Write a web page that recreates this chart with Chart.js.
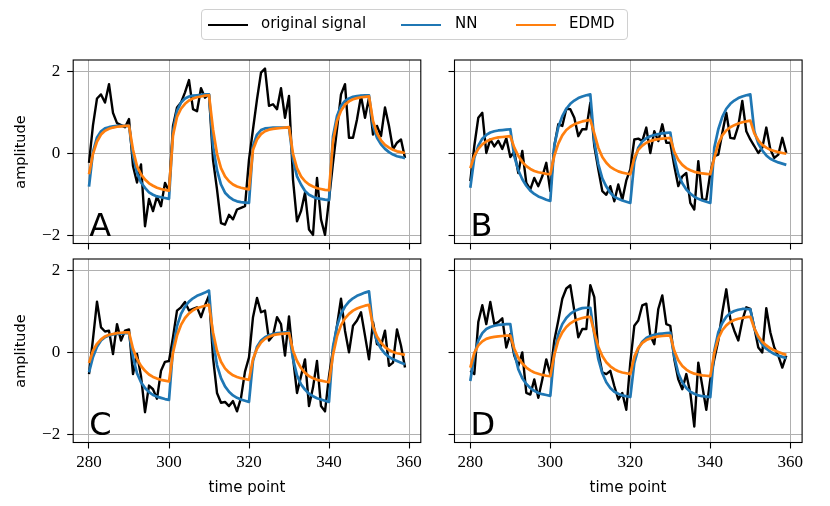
<!DOCTYPE html>
<html>
<head>
<meta charset="utf-8">
<script src="https://cdn.jsdelivr.net/npm/chart.js@4.4.1/dist/chart.umd.min.js"></script>
<style>
  body { margin: 0; background: #fff; }
  #page { position: relative; width: 830px; height: 506px; overflow: hidden; font-family: "DejaVu Sans", sans-serif; }
  canvas { position: absolute; left: 0; top: 0; }
  .lbl { position: absolute; white-space: nowrap; font-size: 15px; color: #000; transform: translate(-50%, -50%); }
  .ylbl { transform: translate(-50%, -50%) rotate(-90deg); font-size: 14.5px; }
  #legend { position: absolute; left: 201px; top: 9px; width: 425px; height: 29px; border: 1px solid #d0d0d0; border-radius: 4px; }
  #legend .sw { position: absolute; top: 14px; width: 40px; height: 0; border-top: 2.5px solid; }
  #legend .tx { position: absolute; top: 4px; font-size: 15px; }
</style>
</head>
<body>
<div id="page">
  <canvas id="panelA" width="830" height="506"></canvas>
  <canvas id="panelB" width="830" height="506"></canvas>
  <canvas id="panelC" width="830" height="506"></canvas>
  <canvas id="panelD" width="830" height="506"></canvas>

  <div id="legend">
    <div class="sw" style="left:6px; border-color:#000000"></div><span class="tx" style="left:59px">original signal</span>
    <div class="sw" style="left:199px; border-color:#1f77b4"></div><span class="tx" style="left:253px">NN</span>
    <div class="sw" style="left:314px; border-color:#ff7f0e"></div><span class="tx" style="left:367px">EDMD</span>
  </div>

  <div class="lbl ylbl" style="left:20px; top:152px">amplitude</div>
  <div class="lbl ylbl" style="left:20px; top:351px">amplitude</div>
  <div class="lbl" style="left:247px; top:487px">time point</div>
  <div class="lbl" style="left:628px; top:487px">time point</div>
</div>

<script>
// time axis, 280..359
const timePoints = [
  280, 281, 282, 283, 284, 285, 286, 287, 288, 289,
  290, 291, 292, 293, 294, 295, 296, 297, 298, 299,
  300, 301, 302, 303, 304, 305, 306, 307, 308, 309,
  310, 311, 312, 313, 314, 315, 316, 317, 318, 319,
  320, 321, 322, 323, 324, 325, 326, 327, 328, 329,
  330, 331, 332, 333, 334, 335, 336, 337, 338, 339,
  340, 341, 342, 343, 344, 345, 346, 347, 348, 349,
  350, 351, 352, 353, 354, 355, 356, 357, 358, 359
];
const xTicks = [280, 300, 320, 340, 360];
const yTicks = [-2, 0, 2];

// panel A
const signalA = [
  -0.22, 0.7, 1.35, 1.45, 1.25, 1.7, 1.0, 0.75, 0.7, 0.65,
  0.85, -0.3, -0.7, -0.26, -1.77, -1.1, -1.4, -1.04, -1.28, -0.71,
  -0.91, 0.68, 1.13, 1.25, 1.5, 1.8, 1.09, 1.04, 1.6, 1.37,
  1.45, -0.14, -0.87, -1.69, -1.73, -1.49, -1.6, -1.36, -1.32, -1.28,
  -0.14, 0.6, 1.33, 1.98, 2.08, 1.17, 1.21, 1.09, 1.6, 0.88,
  1.41, -0.63, -1.65, -1.4, -0.95, -1.85, -1.98, -0.59, -1.6, -1.98,
  -1.12, -0.22, 0.6, 1.45, 1.7, 0.39, 0.39, 0.84, 1.41, 0.88,
  1.37, 0.47, 0.68, 0.43, 1.13, 0.68, 0.11, 0.27, 0.35, -0.1
];
const nnA = [
  -0.8, 0.05, 0.4, 0.55, 0.62, 0.65, 0.67, 0.68, 0.68, 0.68,
  0.68, -0.05, -0.47, -0.7, -0.83, -0.94, -1.0, -1.04, -1.06, -1.08,
  -1.1, 0.55, 1.05, 1.25, 1.35, 1.4, 1.42, 1.43, 1.44, 1.45,
  1.45, 0.2, -0.4, -0.75, -0.95, -1.05, -1.12, -1.16, -1.18, -1.19,
  -1.2, 0.19, 0.47, 0.58, 0.62, 0.63, 0.64, 0.64, 0.64, 0.64,
  0.64, -0.14, -0.55, -0.75, -0.91, -1.0, -1.05, -1.09, -1.1, -1.12,
  -1.13, 0.43, 0.92, 1.17, 1.29, 1.35, 1.39, 1.41, 1.42, 1.43,
  1.43, 0.68, 0.39, 0.23, 0.12, 0.04, -0.02, -0.06, -0.08, -0.11
];
const edmdA = [
  -0.5, 0.0, 0.3, 0.47, 0.56, 0.61, 0.64, 0.66, 0.67, 0.68,
  0.68, 0.1, -0.3, -0.5, -0.63, -0.72, -0.78, -0.83, -0.86, -0.88,
  -0.9, 0.45, 0.9, 1.1, 1.22, 1.3, 1.35, 1.38, 1.4, 1.42,
  1.43, 0.6, 0.0, -0.35, -0.55, -0.67, -0.75, -0.8, -0.83, -0.85,
  -0.87, 0.1, 0.35, 0.48, 0.55, 0.59, 0.61, 0.62, 0.63, 0.64,
  0.65, 0.0, -0.35, -0.55, -0.67, -0.75, -0.8, -0.84, -0.86, -0.88,
  -0.89, 0.3, 0.8, 1.05, 1.2, 1.28, 1.33, 1.36, 1.38, 1.39,
  1.4, 0.8, 0.5, 0.33, 0.22, 0.15, 0.1, 0.06, 0.04, 0.02
];

// panel B
const signalB = [
  -0.67, 0.19, 0.88, 1.0, 0.02, 0.35, 0.18, 0.32, 0.12, 0.38,
  -0.08, 0.05, -0.47, 0.07, -0.71, -0.87, -0.59, -0.79, -0.55, -0.22,
  -0.91, 0.19, 0.72, 0.68, 1.1, 1.09, 0.88, 0.43, 0.6, 0.6,
  1.25, 0.19, -0.38, -0.91, -1.0, -0.79, -1.16, -0.75, -1.12, -0.65,
  -0.38, 0.35, 0.37, 0.31, 0.64, 0.02, 0.55, 0.31, 0.72, 0.27,
  0.27, -0.3, -0.79, -0.55, -0.47, -1.2, -1.36, -0.18, -1.12, -1.12,
  -0.47, -0.06, -0.02, 0.51, 1.0, 0.39, 0.37, 0.68, 1.29, 0.55,
  0.35, 0.19, 0.02, 0.15, 0.64, 0.11, -0.1, -0.02, 0.39, 0.02
];
const nnB = [
  -0.83, -0.1, 0.2, 0.37, 0.46, 0.52, 0.55, 0.57, 0.58, 0.59,
  0.6, -0.06, -0.4, -0.62, -0.78, -0.9, -0.98, -1.04, -1.08, -1.12,
  -1.15, 0.2, 0.65, 0.92, 1.1, 1.22, 1.3, 1.36, 1.4, 1.43,
  1.45, 0.3, -0.25, -0.6, -0.8, -0.95, -1.05, -1.1, -1.14, -1.17,
  -1.2, -0.2, 0.15, 0.3, 0.38, 0.43, 0.46, 0.48, 0.5, 0.51,
  0.52, -0.1, -0.5, -0.72, -0.87, -0.97, -1.05, -1.1, -1.14, -1.17,
  -1.2, 0.15, 0.6, 0.9, 1.1, 1.22, 1.3, 1.36, 1.4, 1.43,
  1.45, 0.55, 0.25, 0.08, -0.04, -0.12, -0.17, -0.21, -0.24, -0.27
];
const edmdB = [
  -0.35, -0.05, 0.12, 0.23, 0.3, 0.35, 0.38, 0.4, 0.41, 0.42,
  0.43, 0.15, -0.05, -0.2, -0.3, -0.37, -0.42, -0.45, -0.47, -0.49,
  -0.5, -0.05, 0.25, 0.45, 0.58, 0.66, 0.72, 0.76, 0.79, 0.81,
  0.83, 0.5, 0.15, -0.08, -0.22, -0.32, -0.38, -0.43, -0.46, -0.48,
  -0.5, -0.1, 0.1, 0.2, 0.27, 0.31, 0.34, 0.36, 0.37, 0.38,
  0.39, 0.05, -0.15, -0.27, -0.35, -0.4, -0.44, -0.46, -0.48, -0.49,
  -0.5, -0.1, 0.25, 0.45, 0.57, 0.65, 0.7, 0.74, 0.77, 0.79,
  0.81, 0.5, 0.33, 0.22, 0.15, 0.1, 0.07, 0.04, 0.02, 0.0
];

// panel C
const signalC = [
  -0.52, 0.34, 1.25, 0.62, 0.52, 0.54, -0.03, 0.7, 0.3, 0.54,
  0.57, -0.52, -0.03, -0.57, -1.45, -0.8, -0.89, -1.12, -0.44, -0.22,
  -0.2, 0.38, 1.03, 1.11, 1.24, 1.03, 1.07, 1.11, 0.87, 1.16,
  1.4, -0.11, -0.98, -1.22, -1.2, -1.3, -1.18, -1.43, -1.1, -0.46,
  -0.11, 0.87, 1.34, 0.99, 1.03, 0.3, 0.42, 0.87, 0.7, -0.07,
  0.89, -0.11, -0.98, -0.57, -0.16, -1.3, -0.85, -0.2, -1.3, -1.43,
  -0.57, 0.09, 0.66, 1.32, 0.54, 0.01, 0.66, 0.79, 0.99, 0.42,
  -0.16, 0.75, 0.21, 0.17, 0.54, -0.32, -0.24, 0.57, 0.17, -0.36
];
const nnC = [
  -0.48, -0.1, 0.15, 0.3, 0.38, 0.42, 0.45, 0.46, 0.47, 0.48,
  0.48, -0.1, -0.5, -0.72, -0.86, -0.96, -1.03, -1.07, -1.1, -1.13,
  -1.15, 0.1, 0.65, 0.95, 1.13, 1.25, 1.33, 1.39, 1.43, 1.47,
  1.52, 0.3, -0.3, -0.62, -0.82, -0.95, -1.04, -1.1, -1.14, -1.17,
  -1.2, -0.2, 0.15, 0.3, 0.38, 0.43, 0.46, 0.48, 0.49, 0.5,
  0.5, -0.15, -0.55, -0.77, -0.9, -1.0, -1.06, -1.11, -1.14, -1.17,
  -1.2, 0.15, 0.65, 0.95, 1.13, 1.25, 1.33, 1.39, 1.43, 1.47,
  1.5, 0.6, 0.28, 0.1, -0.02, -0.1, -0.16, -0.2, -0.24, -0.28
];
const edmdC = [
  -0.25, 0.05, 0.22, 0.33, 0.4, 0.44, 0.46, 0.48, 0.49, 0.5,
  0.5, 0.1, -0.15, -0.32, -0.44, -0.53, -0.59, -0.63, -0.66, -0.68,
  -0.7, 0.0, 0.42, 0.68, 0.85, 0.96, 1.04, 1.09, 1.12, 1.15,
  1.17, 0.5, 0.05, -0.22, -0.38, -0.48, -0.55, -0.59, -0.62, -0.64,
  -0.66, -0.15, 0.1, 0.25, 0.34, 0.39, 0.43, 0.45, 0.46, 0.47,
  0.48, 0.05, -0.2, -0.37, -0.49, -0.57, -0.62, -0.66, -0.68, -0.7,
  -0.72, -0.05, 0.4, 0.67, 0.84, 0.95, 1.03, 1.08, 1.12, 1.15,
  1.17, 0.65, 0.4, 0.25, 0.14, 0.07, 0.02, -0.01, -0.03, -0.05
];

// panel D
const signalD = [
  -0.44, -0.52, 0.75, 1.16, 0.7, 1.24, 0.7, 0.75, 0.84, 0.13,
  0.46, -0.07, -0.32, 0.01, -0.98, -1.02, -0.65, -1.1, -0.65, -0.16,
  -0.52, 0.3, 0.79, 1.32, 1.57, 1.65, 1.03, 0.38, 0.58, 0.58,
  1.65, 1.36, 0.01, -0.48, -0.52, -0.44, -0.81, -1.14, -0.98, -1.39,
  -0.24, 0.66, 0.79, 1.16, 1.2, 0.42, 0.21, 1.07, 1.4, 0.7,
  0.66, -0.16, -0.65, -0.89, -0.52, -0.98, -1.8, -0.24, -0.81, -1.39,
  -0.65, -0.16, 0.3, 0.99, 1.55, 0.83, 0.54, 0.3, 0.79, 1.11,
  1.07, 0.62, 0.13, 0.01, 1.09, 0.5, 0.13, -0.07, -0.36, -0.07
];
const nnD = [
  -0.69, -0.05, 0.3, 0.48, 0.58, 0.63, 0.66, 0.68, 0.69, 0.7,
  0.7, 0.0, -0.4, -0.62, -0.76, -0.86, -0.93, -0.98, -1.01, -1.03,
  -1.05, 0.0, 0.45, 0.7, 0.85, 0.95, 1.02, 1.06, 1.09, 1.1,
  1.1, 0.45, -0.15, -0.5, -0.72, -0.86, -0.95, -1.0, -1.04, -1.06,
  -1.08, -0.25, 0.1, 0.27, 0.36, 0.41, 0.44, 0.46, 0.47, 0.48,
  0.49, -0.1, -0.5, -0.72, -0.86, -0.95, -1.0, -1.04, -1.06, -1.07,
  -1.08, 0.05, 0.5, 0.73, 0.88, 0.97, 1.02, 1.05, 1.07, 1.07,
  1.06, 0.6, 0.35, 0.2, 0.1, 0.03, -0.03, -0.07, -0.1, -0.13
];
const edmdD = [
  -0.36, 0.0, 0.18, 0.28, 0.34, 0.37, 0.39, 0.4, 0.41, 0.42,
  0.42, 0.1, -0.12, -0.26, -0.36, -0.43, -0.48, -0.51, -0.54, -0.56,
  -0.57, -0.05, 0.3, 0.5, 0.63, 0.72, 0.78, 0.82, 0.85, 0.87,
  0.88, 0.5, 0.15, -0.08, -0.23, -0.33, -0.4, -0.45, -0.48, -0.5,
  -0.52, -0.1, 0.12, 0.24, 0.31, 0.35, 0.38, 0.4, 0.41, 0.42,
  0.42, 0.05, -0.18, -0.32, -0.41, -0.47, -0.51, -0.53, -0.55, -0.56,
  -0.57, 0.0, 0.35, 0.55, 0.67, 0.75, 0.8, 0.83, 0.85, 0.87,
  0.88, 0.6, 0.4, 0.27, 0.18, 0.11, 0.06, 0.02, -0.02, -0.05
];

const PAGE_W = 830, PAGE_H = 506;
const X_MIN = 276.05, X_MAX = 362.95;
const Y_MIN = -2.19, Y_MAX = 2.29;

function toPoints(values) {
  return timePoints.map((t, i) => ({ x: t, y: values[i] }));
}

// spines on all four sides + the big panel letter
const framePlugin = {
  id: 'frame',
  afterDraw(chart) {
    const { ctx, chartArea: a } = chart;
    ctx.save();
    ctx.strokeStyle = '#000';
    ctx.lineWidth = 1.1;
    ctx.strokeRect(a.left, a.top, a.right - a.left, a.bottom - a.top);
    ctx.fillStyle = '#000';
    ctx.font = '32px "DejaVu Sans", sans-serif';
    ctx.textBaseline = 'alphabetic';
    ctx.fillText(chart.options.plugins.frame.letter, a.left + 16, a.bottom - 8);
    ctx.restore();
  }
};

function makePanel(id, signal, nn, edmd, letter, box, showX, showY) {
  const yW = showY ? 50 : 10;
  const xH = showX ? 30 : 10;
  return new Chart(document.getElementById(id), {
    type: 'line',
    data: {
      datasets: [
        { label: 'original signal', data: toPoints(signal), borderColor: '#000000', borderWidth: 2.4, order: 3 },
        { label: 'NN', data: toPoints(nn), borderColor: '#1f77b4', borderWidth: 2.7, order: 2 },
        { label: 'EDMD', data: toPoints(edmd), borderColor: '#ff7f0e', borderWidth: 2.7, order: 1 }
      ]
    },
    options: {
      responsive: false,
      animation: false,
      elements: {
        point: { radius: 0 },
        line: { tension: 0, fill: false, borderJoinStyle: 'round' }
      },
      layout: {
        padding: {
          left: box.left - yW,
          right: PAGE_W - box.right,
          top: box.top,
          bottom: PAGE_H - box.bottom - xH
        }
      },
      plugins: {
        legend: { display: false },
        tooltip: { enabled: false },
        frame: { letter: letter }
      },
      scales: {
        x: {
          type: 'linear',
          min: X_MIN,
          max: X_MAX,
          afterBuildTicks: (s) => { s.ticks = xTicks.map(v => ({ value: v })); },
          afterFit: (s) => { s.height = xH; },
          grid: { color: '#b0b0b0', lineWidth: 1, drawTicks: true, tickLength: 6, tickColor: '#000', tickWidth: 1.1 },
          border: { display: false },
          ticks: {
            display: showX,
            color: '#000',
            padding: 4,
            maxRotation: 0,
            font: { family: '"Liberation Serif", serif', size: 17 },
            callback: (v) => String(v)
          }
        },
        y: {
          type: 'linear',
          min: Y_MIN,
          max: Y_MAX,
          afterBuildTicks: (s) => { s.ticks = yTicks.map(v => ({ value: v })); },
          afterFit: (s) => { s.width = yW; },
          grid: { color: '#b0b0b0', lineWidth: 1, drawTicks: true, tickLength: 6, tickColor: '#000', tickWidth: 1.1 },
          border: { display: false },
          ticks: {
            display: showY,
            color: '#000',
            padding: 7,
            font: { family: '"Liberation Serif", serif', size: 17 },
            callback: (v) => (v < 0 ? '\u2212' + Math.abs(v) : String(v))
          }
        }
      }
    },
    plugins: [framePlugin]
  });
}

makePanel('panelA', signalA, nnA, edmdA, 'A', { left: 73.2, right: 420.8, top: 60, bottom: 243.5 }, false, true);
makePanel('panelB', signalB, nnB, edmdB, 'B', { left: 454.5, right: 802.1, top: 60, bottom: 243.5 }, false, false);
makePanel('panelC', signalC, nnC, edmdC, 'C', { left: 73.2, right: 420.8, top: 259, bottom: 442.5 }, true, true);
makePanel('panelD', signalD, nnD, edmdD, 'D', { left: 454.5, right: 802.1, top: 259, bottom: 442.5 }, true, false);
</script>
</body>
</html>
